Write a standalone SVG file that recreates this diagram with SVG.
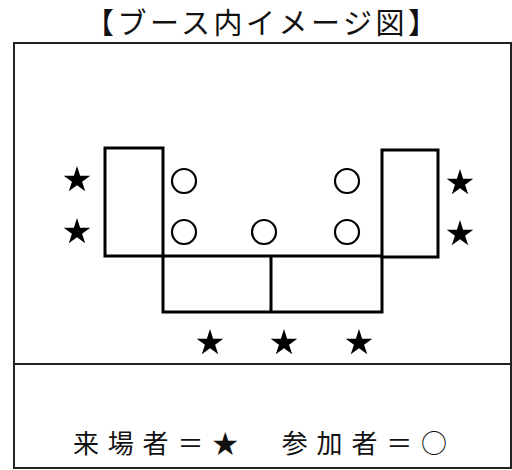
<svg xmlns="http://www.w3.org/2000/svg" width="512" height="470" viewBox="0 0 512 470">
<style>
.t{font-family:"Noto Sans CJK JP","Noto Sans CJK SC",sans-serif;fill:#111}
.frame{fill:none;stroke:#222;stroke-width:2}
.booth{fill:none;stroke:#000;stroke-width:3}
.p{fill:none;stroke:#000;stroke-width:2.2}
.v{fill:#000}
</style>
<defs>
<path id="star" d="M0,-14 L3.14,-4.33 L13.31,-4.33 L5.09,1.65 L8.23,11.33 L0,5.35 L-8.23,11.33 L-5.09,1.65 L-13.31,-4.33 L-3.14,-4.33 Z"/>
</defs>
<rect width="512" height="470" fill="#fff"/>
<text class="t" x="85" y="34" font-size="29" textLength="352" lengthAdjust="spacing">【ブース内イメージ図】</text>
<g id="frame">
<rect class="frame" x="14" y="43" width="497" height="425"/>
<line class="frame" x1="14" y1="364" x2="511" y2="364"/>
</g>
<g id="booth">
<rect class="booth" x="105" y="148" width="58" height="108"/>
<rect class="booth" x="382" y="150" width="56" height="107"/>
<polyline class="booth" points="163,256 382,256"/>
<polyline class="booth" points="163,256 163,312 382,312 382,256"/>
<line class="booth" x1="271" y1="256" x2="271" y2="312"/>
</g>
<g id="participants">
<circle class="p" cx="184" cy="181" r="12"/>
<circle class="p" cx="184" cy="232" r="12"/>
<circle class="p" cx="264" cy="232" r="12"/>
<circle class="p" cx="347" cy="181" r="12"/>
<circle class="p" cx="347" cy="232" r="12"/>
</g>
<g id="visitors">
<use class="v" href="#star" x="77" y="180"/>
<use class="v" href="#star" x="77" y="232"/>
<use class="v" href="#star" x="460" y="183"/>
<use class="v" href="#star" x="460" y="234"/>
<use class="v" href="#star" x="210" y="343"/>
<use class="v" href="#star" x="284" y="343"/>
<use class="v" href="#star" x="359" y="343"/>
</g>
<g id="connectors"/>
<text class="t" x="73" y="453" font-size="26" textLength="374" lengthAdjust="spacing">来場者＝★　参加者＝○</text>
</svg>
